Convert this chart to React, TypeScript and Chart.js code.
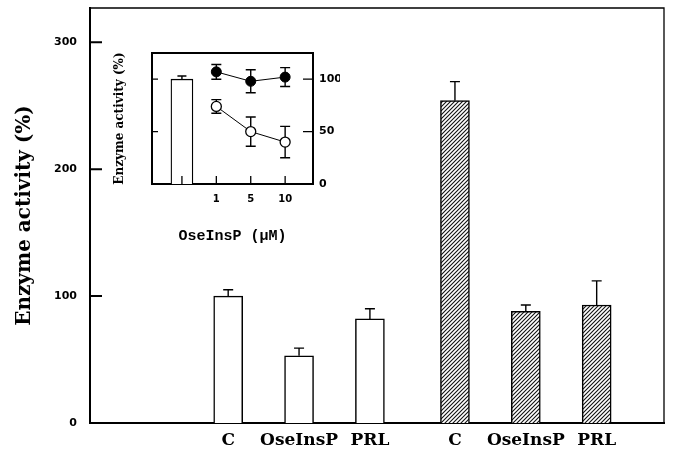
import React, { useEffect, useRef } from 'react';
import { Chart, registerables } from 'chart.js';

Chart.register(...registerables);

// ---- Main chart data ----
const treatmentLabels = ['C', 'OseInsP', 'PRL'];
const controlX = [2, 3, 4];
const hormoneX = [5.2, 6.2, 7.2];
const controlValues = [100, 53, 82];
const controlErrors = [5, 6, 8];
const hormoneValues = [254, 88, 93];
const hormoneErrors = [15, 5, 19];
const mainYTicks = [0, 100, 200, 300];

// ---- Inset data ----
const insetDoseLabels = ['1', '5', '10'];
const insetDoseX = [1, 2, 3];
const insetControlX = [0];
const insetControlValues = [100];
const insetControlErrors = [3];
const filledValues = [107, 98, 102];
const filledErrors = [7, 11, 9];
const openValues = [74, 50, 40];
const openErrors = [6.5, 14, 15];
const insetYTicks = [0, 50, 100];

function makeHatch(): CanvasPattern | string {
  const s = 4;
  const c = document.createElement('canvas');
  c.width = s;
  c.height = s;
  const g = c.getContext('2d');
  if (!g) return '#888';
  g.fillStyle = '#fff';
  g.fillRect(0, 0, s, s);
  g.strokeStyle = '#111';
  g.lineWidth = 1.1;
  g.beginPath();
  g.moveTo(0, s);
  g.lineTo(s, 0);
  g.moveTo(-s / 2, s / 2);
  g.lineTo(s / 2, -s / 2);
  g.moveTo(s / 2, s * 1.5);
  g.lineTo(s * 1.5, s / 2);
  g.stroke();
  return g.createPattern(c, 'repeat') || '#888';
}

const errorBarPlugin = {
  id: 'errorBars',
  beforeDatasetsDraw(chart: any) {
    const ctx = chart.ctx;
    const y = chart.scales.y;
    ctx.save();
    ctx.strokeStyle = '#000';
    ctx.lineWidth = 1.4;
    chart.data.datasets.forEach((ds: any, di: number) => {
      const errs = ds.errors;
      if (!errs) return;
      const meta = chart.getDatasetMeta(di);
      meta.data.forEach((el: any, i: number) => {
        const v = ds.data[i].y;
        const e = errs[i];
        const top = y.getPixelForValue(v + e);
        const bottom = ds.errorBoth ? y.getPixelForValue(v - e) : el.y;
        const cap = ds.capWidth || 10;
        ctx.beginPath();
        ctx.moveTo(el.x, bottom);
        ctx.lineTo(el.x, top);
        ctx.moveTo(el.x - cap / 2, top);
        ctx.lineTo(el.x + cap / 2, top);
        if (ds.errorBoth) {
          ctx.moveTo(el.x - cap / 2, bottom);
          ctx.lineTo(el.x + cap / 2, bottom);
        }
        ctx.stroke();
      });
    });
    ctx.restore();
  },
};

const mainFramePlugin = {
  id: 'mainFrame',
  afterDraw(chart: any) {
    const { ctx, chartArea } = chart;
    const y = chart.scales.y;
    ctx.save();
    ctx.strokeStyle = '#000';
    ctx.lineWidth = 1.3;
    ctx.beginPath();
    ctx.moveTo(chartArea.left - 1, chartArea.top);
    ctx.lineTo(chartArea.right, chartArea.top);
    ctx.lineTo(chartArea.right, chartArea.bottom);
    ctx.stroke();
    ctx.lineWidth = 2;
    ctx.beginPath();
    mainYTicks.filter((v) => v > 0).forEach((v) => {
      const py = y.getPixelForValue(v);
      ctx.moveTo(chartArea.left, py);
      ctx.lineTo(chartArea.left + 12, py);
    });
    ctx.stroke();
    ctx.restore();
  },
};

const insetFramePlugin = {
  id: 'insetFrame',
  afterDraw(chart: any) {
    const { ctx, chartArea } = chart;
    const y = chart.scales.y;
    const x = chart.scales.x;
    ctx.save();
    ctx.strokeStyle = '#000';
    ctx.lineWidth = 2;
    ctx.beginPath();
    ctx.moveTo(chartArea.left - 1, chartArea.top);
    ctx.lineTo(chartArea.right + 1, chartArea.top);
    ctx.stroke();
    ctx.lineWidth = 1.3;
    ctx.beginPath();
    insetYTicks.filter((v) => v > 0).forEach((v) => {
      const py = y.getPixelForValue(v);
      ctx.moveTo(chartArea.left, py);
      ctx.lineTo(chartArea.left + 6, py);
      ctx.moveTo(chartArea.right, py);
      ctx.lineTo(chartArea.right - 10, py);
    });
    [...insetControlX, ...insetDoseX].forEach((v) => {
      const px = x.getPixelForValue(v);
      ctx.moveTo(px, chartArea.bottom);
      ctx.lineTo(px, chartArea.bottom - 8);
    });
    ctx.stroke();
    ctx.restore();
  },
};

function noVerticalPadding(s: any) {
  s.paddingTop = 0;
  s.paddingBottom = 0;
}

export default function App() {
  const mainRef = useRef<HTMLCanvasElement>(null);
  const insetRef = useRef<HTMLCanvasElement>(null);

  useEffect(() => {
    const hatch = makeHatch();
    const allX = [...controlX, ...hormoneX];
    const allLabels = [...treatmentLabels, ...treatmentLabels];

    const main = new Chart(mainRef.current as HTMLCanvasElement, {
      type: 'bar',
      data: {
        datasets: [
          {
            label: 'Control',
            data: controlX.map((x, i) => ({ x, y: controlValues[i] })),
            errors: controlErrors,
            backgroundColor: '#fff',
            borderColor: '#000',
            borderWidth: 1.5,
            barThickness: 29,
            maxBarThickness: 29,
            grouped: false,
          } as any,
          {
            label: 'Hormone',
            data: hormoneX.map((x, i) => ({ x, y: hormoneValues[i] })),
            errors: hormoneErrors,
            backgroundColor: hatch,
            borderColor: '#000',
            borderWidth: 1.5,
            barThickness: 29,
            maxBarThickness: 29,
            grouped: false,
          } as any,
        ],
      },
      options: {
        responsive: false,
        animation: false,
        devicePixelRatio: 1,
        layout: { autoPadding: false, padding: { top: 8, right: 11, left: 0, bottom: 0 } },
        plugins: { legend: { display: false }, tooltip: { enabled: false } },
        scales: {
          x: {
            type: 'linear',
            offset: false,
            min: 0.05,
            max: 8.15,
            grid: { display: false, drawTicks: false, offset: false },
            border: { display: true, color: '#000', width: 2 },
            ticks: {
              color: '#000',
              padding: 7,
              autoSkip: false,
              maxRotation: 0,
              font: { family: 'DejaVu Serif', size: 17, weight: 'bold' },
              callback: (_v: any, i: number) => allLabels[i],
            },
            afterBuildTicks: (s: any) => {
              s.ticks = allX.map((v) => ({ value: v }));
            },
            afterFit: (s: any) => {
              s.height = 32;
            },
          },
          y: {
            min: 0,
            max: 327,
            grid: { display: false, drawTicks: false },
            border: { display: true, color: '#000', width: 2 },
            ticks: {
              color: '#000',
              padding: 13,
              font: { family: 'DejaVu Sans', size: 11, weight: 'bold' },
            },
            afterBuildTicks: (s: any) => {
              s.ticks = mainYTicks.map((v) => ({ value: v }));
            },
            afterFit: (s: any) => {
              s.width = 90;
              noVerticalPadding(s);
            },
            title: {
              display: true,
              text: 'Enzyme activity (%)',
              color: '#000',
              padding: { top: 13, bottom: 0 },
              font: { family: 'DejaVu Serif', size: 20, weight: 'bold' },
            },
          },
        },
      } as any,
      plugins: [errorBarPlugin, mainFramePlugin],
    });

    const inset = new Chart(insetRef.current as HTMLCanvasElement, {
      type: 'bar',
      data: {
        datasets: [
          {
            type: 'line',
            label: 'Filled',
            data: insetDoseX.map((x, i) => ({ x, y: filledValues[i] })),
            errors: filledErrors,
            errorBoth: true,
            capWidth: 10,
            borderColor: '#000',
            borderWidth: 1,
            backgroundColor: '#000',
            pointRadius: 5,
            pointBorderWidth: 1,
            pointBackgroundColor: '#000',
            pointBorderColor: '#000',
          } as any,
          {
            type: 'line',
            label: 'Open',
            data: insetDoseX.map((x, i) => ({ x, y: openValues[i] })),
            errors: openErrors,
            errorBoth: true,
            capWidth: 10,
            borderColor: '#000',
            borderWidth: 1,
            backgroundColor: '#fff',
            pointRadius: 5,
            pointBorderWidth: 1.3,
            pointBackgroundColor: '#fff',
            pointBorderColor: '#000',
          } as any,
          {
            type: 'bar',
            label: 'Control',
            data: insetControlX.map((x, i) => ({ x, y: insetControlValues[i] })),
            errors: insetControlErrors,
            capWidth: 9,
            backgroundColor: '#fff',
            borderColor: '#000',
            borderWidth: 1.3,
            barThickness: 22,
            maxBarThickness: 22,
          } as any,
        ],
      },
      options: {
        responsive: false,
        animation: false,
        devicePixelRatio: 1,
        layout: { autoPadding: false, padding: { top: 8, right: 15, left: 0, bottom: 0 } },
        plugins: { legend: { display: false }, tooltip: { enabled: false } },
        scales: {
          x: {
            type: 'linear',
            offset: false,
            min: -0.87,
            max: 3.81,
            grid: { display: false, drawTicks: false, offset: false },
            border: { display: true, color: '#000', width: 2 },
            ticks: {
              color: '#000',
              padding: 9,
              autoSkip: false,
              maxRotation: 0,
              font: { family: 'DejaVu Sans', size: 10, weight: 'bold' },
              callback: (_v: any, i: number) => (i === 0 ? '' : insetDoseLabels[i - 1]),
            },
            afterBuildTicks: (s: any) => {
              s.ticks = [...insetControlX, ...insetDoseX].map((v) => ({ value: v }));
            },
            afterFit: (s: any) => {
              s.height = 66;
            },
            title: {
              display: true,
              text: 'OseInsP (μM)',
              color: '#000',
              padding: { top: 0, bottom: 5 },
              font: { family: 'Liberation Mono', size: 15, weight: 'bold' },
            },
          },
          yL: {
            type: 'linear',
            position: 'left',
            min: 0,
            max: 125,
            grid: { display: false, drawTicks: false },
            border: { display: true, color: '#000', width: 2 },
            ticks: { display: false },
            afterFit: (s: any) => {
              s.width = 47;
              noVerticalPadding(s);
            },
            title: {
              display: true,
              text: 'Enzyme activity (%)',
              color: '#000',
              padding: { top: 8, bottom: 0 },
              font: { family: 'DejaVu Serif', size: 12, weight: 'bold' },
            },
          },
          y: {
            type: 'linear',
            position: 'right',
            min: 0,
            max: 125,
            grid: { display: false, drawTicks: false },
            border: { display: true, color: '#000', width: 2 },
            ticks: {
              color: '#000',
              padding: 6,
              font: { family: 'DejaVu Sans', size: 11, weight: 'bold' },
            },
            afterBuildTicks: (s: any) => {
              s.ticks = insetYTicks.map((v) => ({ value: v }));
            },
            afterFit: (s: any) => {
              s.width = 27;
              noVerticalPadding(s);
            },
          },
        },
      } as any,
      plugins: [errorBarPlugin, insetFramePlugin],
    });

    return () => {
      main.destroy();
      inset.destroy();
    };
  }, []);

  return (
    <div style={{ position: 'fixed', left: 0, top: 0, width: 675, height: 455, background: '#fff' }}>
      <canvas ref={mainRef} width={675} height={455} style={{ position: 'absolute', left: 0, top: 0 }} />
      <canvas ref={insetRef} width={250} height={205} style={{ position: 'absolute', left: 105, top: 45 }} />
    </div>
  );
}
